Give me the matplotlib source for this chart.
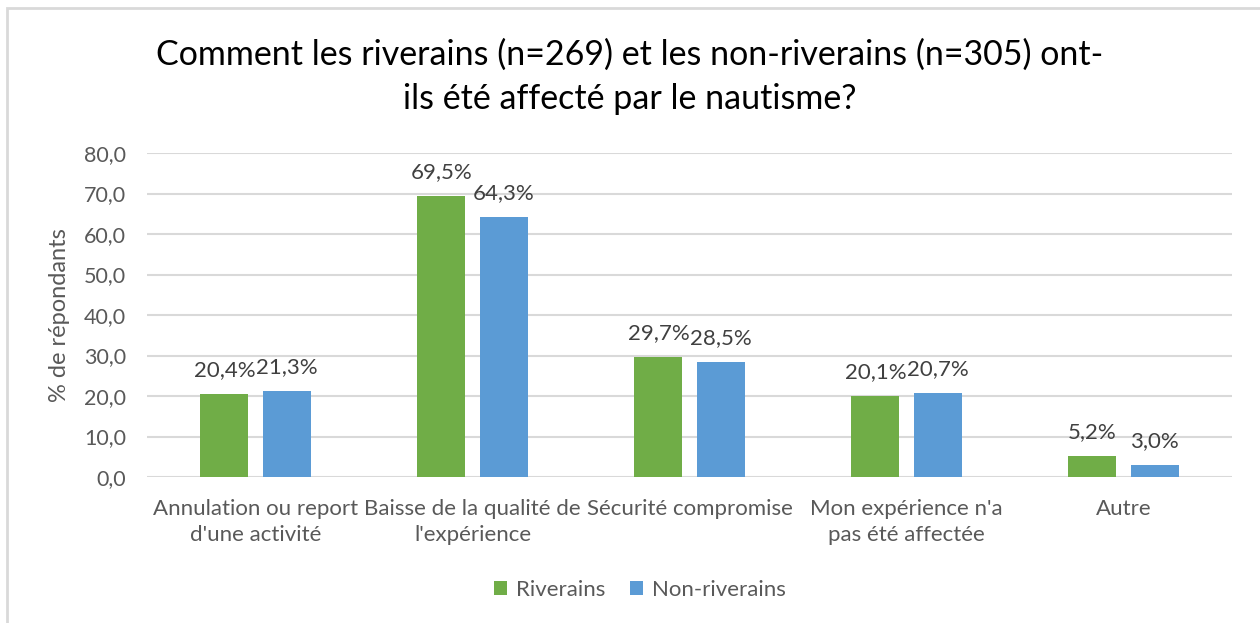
import numpy as np
import matplotlib.pyplot as plt
from matplotlib.patches import Rectangle

# donnees du graphique
categories = ["Annulation ou report\nd'une activité",
              "Baisse de la qualité de\nl'expérience",
              "Sécurité compromise",
              "Mon expérience n'a\npas été affectée",
              "Autre"]
riverains = [20.4, 69.5, 29.7, 20.1, 5.2]
non_riverains = [21.3, 64.3, 28.5, 20.7, 3.0]
series_noms = ["Riverains", "Non-riverains"]
yticks = [0, 10, 20, 30, 40, 50, 60, 70, 80]

plt.rcParams['font.family'] = ['Lato', 'DejaVu Sans']
gris = '#595959'
vert = '#70AD47'
bleu = '#5B9BD5'

fig = plt.figure(figsize=(12.6, 6.23), dpi=100)
ax = fig.add_axes([147/1260, 1 - 477/623, (1232-147)/1260, (477-153)/623])

# cadre gris autour du graphique (coupe a droite et en bas)
fig.patches.append(Rectangle((7/1260, -0.1), 1.2, 1 - 8/623 + 0.1,
                             transform=fig.transFigure, fill=False,
                             edgecolor='#d9d9d9', linewidth=2))

x = np.arange(len(categories))
w = 0.221
off = 0.143
b1 = ax.bar(x - off, riverains, w, color=vert, label=series_noms[0])
b2 = ax.bar(x + off, non_riverains, w, color=bleu, label=series_noms[1])

for bars, vals in ((b1, riverains), (b2, non_riverains)):
    for b, v in zip(bars, vals):
        ax.annotate(f"{v:.1f}%".replace('.', ','),
                    (b.get_x() + b.get_width() / 2, v),
                    xytext=(0, 10), textcoords='offset points',
                    ha='center', va='bottom', fontsize=16, color='#404040')

ax.set_xlim(-0.5, len(categories) - 0.5)
ax.set_ylim(0, 80)
ax.set_yticks(yticks)
ax.set_yticklabels([f"{t:.1f}".replace('.', ',') for t in yticks])
ax.set_xticks(x)
ax.set_xticklabels(categories, linespacing=1.35)
ax.tick_params(axis='both', length=0, colors=gris)
ax.tick_params(axis='x', pad=16, labelsize=16)
ax.tick_params(axis='y', pad=15, labelsize=15.5)
ax.grid(axis='y', color='#d9d9d9', linewidth=1.5)
ax.set_axisbelow(True)
for s in ax.spines.values():
    s.set_visible(False)

ax.set_ylabel("% de répondants", fontsize=17, color=gris)
ax.yaxis.set_label_coords(-0.071, 0.5)

fig.text(0.5, 1 - 77/623,
         "Comment les riverains (n=269) et les non-riverains (n=305) ont-\nils été affecté par le nautisme?",
         ha='center', va='center', fontsize=24.5, color='black', linespacing=1.45)

fig.legend(loc='center', bbox_to_anchor=(0.508, 1 - 590/623), ncol=2,
           frameon=False, fontsize=16, labelcolor=gris, handlelength=0.6,
           handleheight=0.6, columnspacing=1.1, handletextpad=0.4)

fig.savefig('out.png', dpi=100)
